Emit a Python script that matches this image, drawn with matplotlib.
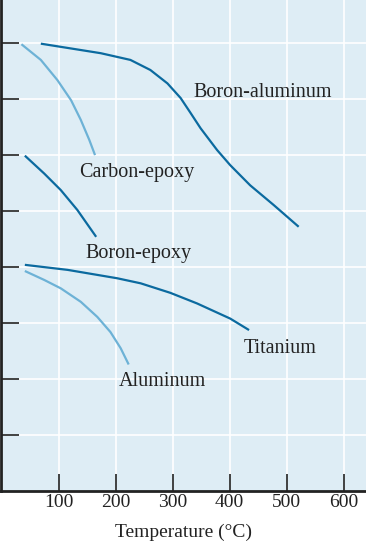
import matplotlib
matplotlib.use("Agg")
import matplotlib.pyplot as plt

# Data (x: temperature °C, y: relative units, grid step 1)
boron_al_x = [69, 174, 226, 261, 291, 314, 331, 349, 378, 401, 436, 477, 521]
boron_al_y = [7.99, 7.82, 7.70, 7.52, 7.28, 7.02, 6.76, 6.48, 6.09, 5.82, 5.46, 5.11, 4.72]

carbon_ep_x = [35, 69, 98, 122, 139, 154, 164]
carbon_ep_y = [7.98, 7.70, 7.34, 6.98, 6.63, 6.27, 6.00]

boron_ep_x = [41, 75, 104, 133, 166]
boron_ep_y = [5.99, 5.67, 5.375, 5.02, 4.54]

titanium_x = [41, 116, 203, 244, 296, 343, 401, 434]
titanium_y = [4.04, 3.95, 3.80, 3.71, 3.54, 3.35, 3.08, 2.875]

aluminum_x = [41, 75, 104, 139, 168, 191, 209, 223]
aluminum_y = [3.93, 3.77, 3.62, 3.38, 3.11, 2.84, 2.55, 2.26]

x_ticks = [100, 200, 300, 400, 500, 600]
y_ticks = [1, 2, 3, 4, 5, 6, 7, 8]

labels = ["Boron-aluminum", "Carbon-epoxy", "Boron-epoxy", "Titanium", "Aluminum"]
label_pos = [(336, 7.03), (137, 5.61), (148, 4.155), (424, 2.46), (206, 1.875)]

DARK = "#0b6a9f"
LIGHT = "#6db2d6"
BG = "#deedf5"
TXT = "#222222"

fig = plt.figure(figsize=(3.66, 5.45), dpi=100)
ax = fig.add_axes([0.004, 0.099, 0.996, 0.901])
ax.set_facecolor(BG)

for xs, ys, c in [(boron_al_x, boron_al_y, DARK), (carbon_ep_x, carbon_ep_y, LIGHT),
                  (boron_ep_x, boron_ep_y, DARK), (titanium_x, titanium_y, DARK),
                  (aluminum_x, aluminum_y, LIGHT)]:
    ax.plot(xs, ys, color=c, lw=1.6, solid_capstyle="butt", solid_joinstyle="round")

serif = ["Liberation Serif", "DejaVu Serif"]
for txt, (lx, ly) in zip(labels, label_pos):
    ax.text(lx, ly, txt, family=serif, fontsize=14.5, color=TXT,
            ha="left", va="baseline")

ax.set_xlim(0, 639)
ax.set_ylim(0, 8.77)
ax.set_xticks(x_ticks)
ax.set_yticks(y_ticks)
ax.set_xticklabels([str(v) for v in x_ticks], family=serif, fontsize=14, color=TXT)
ax.set_yticklabels([])
ax.tick_params(axis="x", direction="in", length=12, width=1.2, pad=2, color=TXT)
ax.tick_params(axis="y", direction="in", length=13, width=1.2, color=TXT)
ax.grid(True, color="white", lw=1.2)
ax.set_axisbelow(True)
for s in ["top", "right"]:
    ax.spines[s].set_visible(False)
for s in ["left", "bottom"]:
    ax.spines[s].set_linewidth(2)
    ax.spines[s].set_color(TXT)
ax.set_xlabel("Temperature (°C)", family=serif, fontsize=14, color=TXT, labelpad=9)

fig.savefig("out.png", dpi=100)
